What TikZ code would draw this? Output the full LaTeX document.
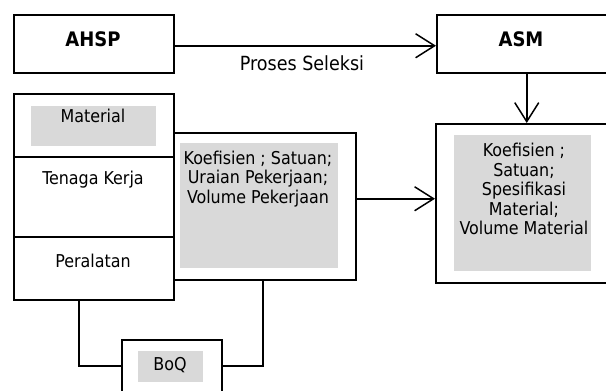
\documentclass[tikz,border=0pt]{standalone}
\usepackage{fontspec}
\setmainfont{DejaVu Sans Condensed}
\usetikzlibrary{arrows.meta}
\definecolor{gry}{RGB}{217,217,217}
\begin{document}
\begin{tikzpicture}[x=1pt,y=-1pt,
  frame/.style={draw=black, line width=1.5pt, inner sep=0pt, anchor=north west},
  shade/.style={fill=gry, draw=none, inner sep=0pt, anchor=north west},
  txt/.style={inner sep=0pt, align=center, font=\fontsize{17.7}{19.5}\selectfont},
  head/.style={inner sep=0pt, font=\bfseries\fontsize{20}{24}\selectfont},
  lbl/.style={inner sep=0pt, font=\fontsize{19.5}{22}\selectfont},
  arr/.style={line width=1.5pt, -{Straight Barb[length=19pt,width=24pt,line width=1.5pt]}},
  link/.style={line width=1.5pt}]
\clip (0,0) rectangle (606,391);
\fill[white] (0,0) rectangle (606,391);
% top row
\node[frame, minimum width=160pt, minimum height=58pt] (ahsp) at (13,14) {};
\node[frame, minimum width=184pt, minimum height=58pt] (asm) at (436,14) {};
\node[head] (ahspt) at (93,39) {AHSP};
\node[head] (asmt) at (521,39) {ASM};
\draw[arr] ([yshift=-2pt]ahsp.east) -- ([yshift=-2pt]asm.west);
\node[lbl] (sel) at (302,63) {Proses Seleksi};
% left stacked box
\node[frame, minimum width=160pt, minimum height=63pt] (mat) at (13,93) {};
\node[frame, minimum width=160pt, minimum height=80pt] (tk) at (13,156) {};
\node[frame, minimum width=160pt, minimum height=63pt] (alat) at (13,236) {};
\node[shade, minimum width=125pt, minimum height=40pt] (matg) at (31,106) {};
\node[txt] (matt) at (93,116) {Material};
\node[txt] (tkt) at (93,180) {Tenaga Kerja};
\node[txt] (alatt) at (93,261) {Peralatan};
% middle box
\node[frame, minimum width=182pt, minimum height=147pt] (mid) at (173,132) {};
\node[shade, minimum width=158pt, minimum height=125pt] (midg) at (180,143) {};
\node[txt] (midt) at (258,179) {Koefisien ; Satuan;\\Uraian Pekerjaan;\\Volume Pekerjaan};
% right box
\node[frame, minimum width=185pt, minimum height=159pt] (spec) at (435,123) {};
\node[shade, minimum width=137pt, minimum height=136pt] (specg) at (454,135) {};
\node[txt] (spect) at (524,189) {Koefisien ;\\Satuan;\\Spesifikasi\\Material;\\Volume Material};
\draw[arr] ([xshift=-2pt]asm.south) -- ([xshift=-2pt]asm.south |- spec.north);
\draw[arr] ([yshift=7.5pt]mid.east) -- ([yshift=7.5pt]mid.east -| spec.west);
% BoQ
\node[frame, minimum width=100pt, minimum height=60pt] (boq) at (121,339) {};
\node[shade, minimum width=65pt, minimum height=31pt] (boqg) at (138,351) {};
\node[txt] (boqt) at (170,365) {BoQ};
\draw[link] ([xshift=-15pt]alat.south) |- ([yshift=4pt]boq.west);
\draw[link] ([yshift=4pt]boq.east) -| ([xshift=-2pt]mid.south);
\end{tikzpicture}
\end{document}
